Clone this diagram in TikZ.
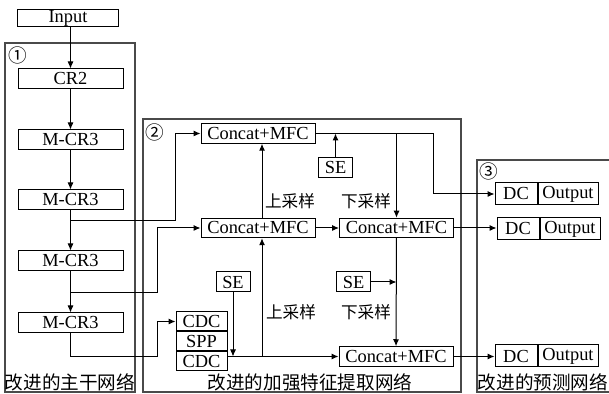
\documentclass[tikz,border=0pt]{standalone}
\usepackage{fontspec}
\setmainfont{Liberation Serif}
\newfontfamily\cjk{Noto Sans CJK SC}
\usetikzlibrary{arrows.meta,positioning}
\definecolor{PanelGray}{HTML}{4A4A4A}
\tikzset{
  box/.style={draw, line width=0.5pt, inner sep=0pt, minimum height=10pt, align=center},
  bbbox/.style={box, minimum width=52.5pt},
  catbox/.style={box, minimum width=57pt, minimum height=9.75pt},
  sebox/.style={box, minimum width=17pt},
  dcbox/.style={box, minimum width=21pt, minimum height=11pt},
  outbox/.style={box, minimum width=30pt, minimum height=11pt},
  stackbox/.style={box, minimum width=25.5pt, minimum height=9.5pt},
  panel/.style={draw=PanelGray, line width=0.6pt},
  cn/.style={font=\cjk\fontsize{9.3pt}{11pt}\selectfont, inner sep=0pt},
  smallcn/.style={font=\cjk\fontsize{8.3pt}{10pt}\selectfont, inner sep=0pt},
  arr/.style={-{Latex[length=3.5pt,width=3pt]}, line width=0.5pt}
}

\begin{document}
\begin{tikzpicture}[x=0.5pt,y=-0.5pt,font=\fontsize{9.2pt}{11pt}\selectfont]
\useasboundingbox (0,0) rectangle (609,394);
% panels
\draw[panel] (5,43) rectangle (135,392);
\draw[panel] (143,119) rectangle (461,392);
\draw[panel] (609,160) -- (477,160) -- (477,392) -- (609,392);
\node[cn] (n1) at (17.5,55.5) {①};
\node[cn] (n2) at (154.5,132) {②};
\node[cn] (n3) at (489,171) {③};
\node[cn] (t1) at (70,382) {改进的主干网络};
\node[cn] (t2) at (310,382) {改进的加强特征提取网络};
\node[cn] (t3) at (543,382) {改进的预测网络};

% backbone
\node[box,minimum width=50.5pt,minimum height=8.5pt] (in) at (68,18.5) {Input};
\node[bbbox] (cr2) at (70.5,79) {CR2};
\node[bbbox] (m1) at (70.5,140) {M-CR3};
\node[bbbox] (m2) at (70.5,200) {M-CR3};
\node[bbbox] (m3) at (70.5,261) {M-CR3};
\node[bbbox] (m4) at (70.5,323) {M-CR3};
\draw[arr] (cr2.north |- in.south) -- (cr2.north);
\foreach \a/\b in {cr2/m1,m1/m2,m2/m3,m3/m4}
  \draw[arr] (\a) -- (\b);
\coordinate (b1) at (70.5,221);
\coordinate (b2) at (70.5,293);

% neck
\node[catbox] (tc) at (258,133.5) {Concat+MFC};
\node[catbox] (mc1) at (258,228) {Concat+MFC};
\node[catbox] (mc2) at (396.5,228) {Concat+MFC};
\node[catbox] (bc) at (396,356.5) {Concat+MFC};
\node[sebox] (se1) at (335.5,167.5) {SE};
\node[sebox] (se2) at (233,282) {SE};
\node[sebox] (se3) at (353.5,282) {SE};
\node[stackbox] (cdca) at (201.5,321.5) {CDC};
\node[stackbox,below=0pt of cdca] (spp) {SPP};
\node[stackbox,below=0pt of spp] (cdcb) {CDC};
\node[smallcn] (up1) at (290,201) {上采样};
\node[smallcn] (dn1) at (366,201) {下采样};
\node[smallcn] (up2) at (291,312) {上采样};
\node[smallcn] (dn2) at (366,312) {下采样};

% head
\node[dcbox] (dc1) at (516,194) {DC};
\node[outbox,right=0pt of dc1] (o1) {Output};
\node[dcbox] (dc2) at (518,229) {DC};
\node[outbox,right=0pt of dc2] (o2) {Output};
\node[dcbox] (dc3) at (516,356) {DC};
\node[outbox,right=0pt of dc3] (o3) {Output};

% connections
\draw[arr] (b1) -- (b1 -| cdca.west) |- (tc.west);
\draw[arr] (b2) -- ++(87,0) |- (mc1.west);
\draw[arr] (m4.south) -- ++(0,23.5) -- ++(87,0) |- (cdca.west);
\draw[arr] (cdcb.east |- bc.west) -- (bc.west);
\coordinate (up) at (262,356.5);
\draw[arr] (up) -- (up |- mc1.south);
\draw[arr] (up |- mc1.north) -- (up |- tc.south);
\draw[arr] (se2.south) -- (se2.south |- bc.west);
\draw[arr] (tc.east) -- ++(118,0) |- (dc1.west);
\draw[arr] (se1.north) -- (se1.north |- tc.east);
\draw[arr] (mc2.north |- tc.east) -- (mc2.north);
\draw[arr] (mc1) -- (mc2);
\draw[arr] (mc2) -- (bc);
\draw[arr] (se3.east) -- (se3.east -| mc2.south);
\draw[arr] (mc2.east) -- (mc2.east -| dc2.west);
\draw[arr] (bc.east) -- (bc.east -| dc3.west);
\end{tikzpicture}
\end{document}
